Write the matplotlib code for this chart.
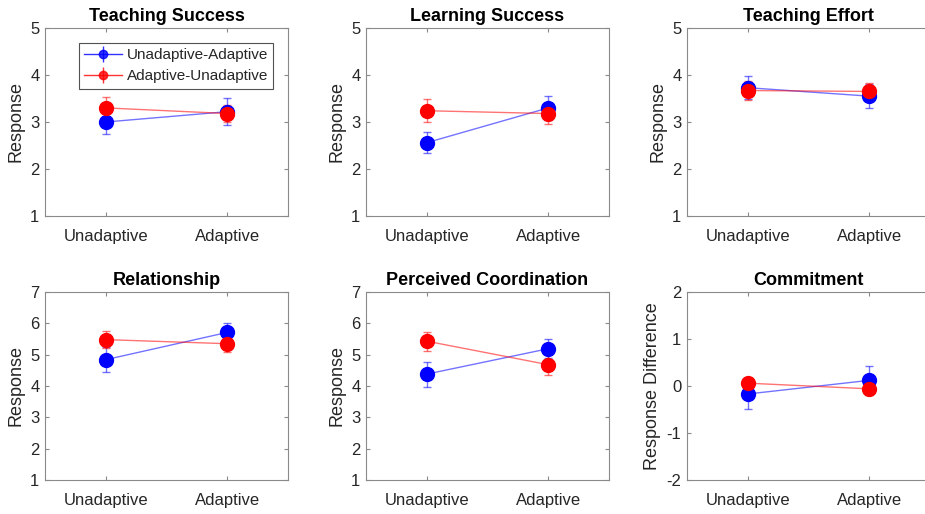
import matplotlib
matplotlib.use("Agg")
import matplotlib.pyplot as plt

plt.rcParams['font.family'] = ['Liberation Sans', 'DejaVu Sans']
plt.rcParams['axes.unicode_minus'] = False

conditions = ['Unadaptive', 'Adaptive']
titles = ['Teaching Success', 'Learning Success', 'Teaching Effort',
          'Relationship', 'Perceived Coordination', 'Commitment']
ylabels = ['Response'] * 5 + ['Response Difference']
ylims = [(1, 5), (1, 5), (1, 5), (1, 7), (1, 7), (-2, 2)]

# group that got the unadaptive robot first
ua_mean = [[3.00, 3.22], [2.56, 3.30], [3.73, 3.55],
           [4.84, 5.71], [4.38, 5.19], [-0.17, 0.12]]
ua_err = [[0.26, 0.29], [0.22, 0.25], [0.25, 0.26],
          [0.40, 0.30], [0.40, 0.30], [0.32, 0.30]]

# group that got the adaptive robot first
au_mean = [[3.30, 3.18], [3.24, 3.18], [3.67, 3.65],
           [5.48, 5.35], [5.43, 4.68], [0.06, -0.06]]
au_err = [[0.24, 0.19], [0.25, 0.22], [0.20, 0.19],
          [0.27, 0.28], [0.30, 0.32], [0.08, 0.13]]

series_names = ['Unadaptive-Adaptive', 'Adaptive-Unadaptive']

W, H = 925, 514
fig = plt.figure(figsize=(W / 100, H / 100), dpi=100)

lefts = [45, 366, 687]
tops = [28, 292]
aw, ah = 243, 188

text_col = '#262626'
axis_col = '#8a8a8a'
x = [1, 2]

for i in range(6):
    r, c = divmod(i, 3)
    ax = fig.add_axes([lefts[c] / W, (H - tops[r] - ah) / H, aw / W, ah / H])

    for means, errs, col, name in [(ua_mean[i], ua_err[i], 'blue', series_names[0]),
                                   (au_mean[i], au_err[i], 'red', series_names[1])]:
        # faint connecting line and error bars, solid markers on top
        ax.errorbar(x, means, yerr=errs, color=col, alpha=0.55, lw=1.0,
                    capsize=3, capthick=1.0, zorder=2)
        ax.plot(x, means, 'o', color=col, ms=10, zorder=3)
        if i == 0:
            ax.errorbar([], [], yerr=[], color=col, lw=1.0, capsize=3,
                        marker='o', ms=6, label=name, alpha=0.8)

    ax.set_xlim(0.5, 2.5)
    ax.set_ylim(*ylims[i])
    ax.set_xticks(x)
    ax.set_xticklabels(conditions)
    ax.set_yticks(range(ylims[i][0], ylims[i][1] + 1))
    ax.set_title(titles[i], fontsize=13, fontweight='bold', color='black', pad=5)
    ax.set_ylabel(ylabels[i], fontsize=13, color=text_col, labelpad=4)
    ax.tick_params(direction='in', top=True, right=True, length=3,
                   color=axis_col, labelcolor=text_col, labelsize=12, pad=4)
    ax.tick_params(axis='x', pad=9)
    for s in ax.spines.values():
        s.set_color(axis_col)
        s.set_linewidth(0.8)

    if i == 0:
        leg = ax.legend(loc='upper right', bbox_to_anchor=(0.94, 0.92),
                        fontsize=11, frameon=True, fancybox=False,
                        borderpad=0.35, handlelength=2.5, handletextpad=0.3,
                        labelspacing=0.45, borderaxespad=0)
        leg.get_frame().set_edgecolor(text_col)
        leg.get_frame().set_linewidth(0.8)
        for t in leg.get_texts():
            t.set_color(text_col)

fig.savefig('out.png', dpi=100)
